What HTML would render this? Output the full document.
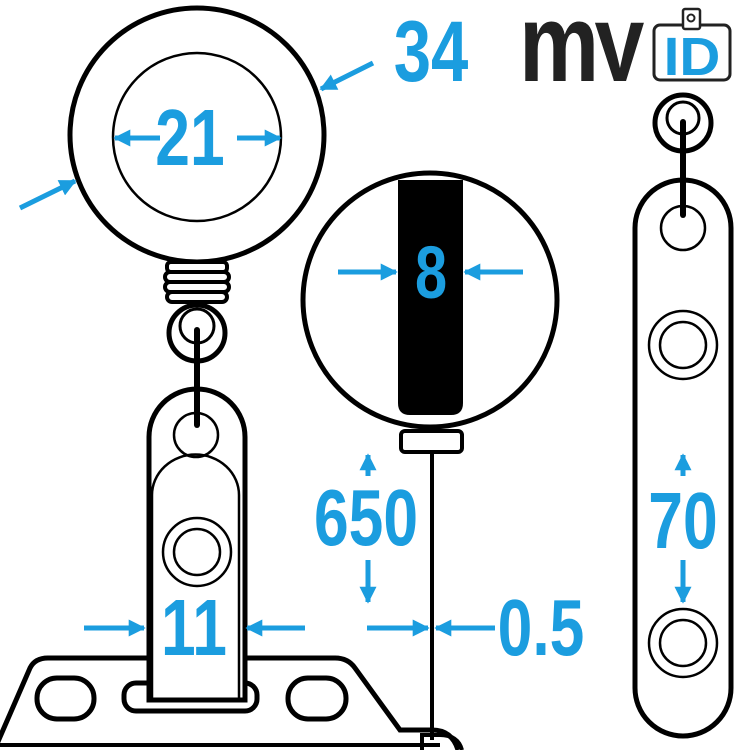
<!DOCTYPE html>
<html><head><meta charset="utf-8"><style>
html,body{margin:0;padding:0;background:#fff;width:750px;height:750px;overflow:hidden}
svg text{font-family:"Liberation Sans",sans-serif;font-weight:bold;fill:#1b9ddf}
</style></head><body>
<svg width="750" height="750" viewBox="0 0 750 750" xmlns="http://www.w3.org/2000/svg">
<defs>
<marker id="ah" viewBox="0 0 10 10" refX="9" refY="5" markerWidth="3.4" markerHeight="3.4" orient="auto" markerUnits="strokeWidth">
<path d="M0,0 L10,5 L0,10 z" fill="#1b9ddf"/></marker>
<clipPath id="lc"><rect x="500" y="0" width="160" height="81"/></clipPath>
</defs>
<g fill="none" stroke="#000">
<!-- base plate -->
<path d="M-10,760 L30,668 Q35,658 48,658 L335,658 Q348,658 355,668 L400,730 L432,730 Q452,730 458,750" stroke-width="5" fill="#fff"/>
<rect x="37" y="678" width="57" height="41" rx="20" stroke-width="5"/>
<rect x="288" y="678" width="58" height="41" rx="20" stroke-width="5"/>
<rect x="124" y="683" width="133" height="28" rx="12" stroke-width="5"/>
<line x1="0" y1="745" x2="440" y2="745" stroke-width="4"/>
<!-- clip -->
<path d="M149,700 L149,437 A48,48 0 0 1 245,437 L245,700 Z" stroke-width="5" fill="#fff"/>
<path d="M152,700 L152,495 A43,40 0 0 1 239,495 L239,700" stroke-width="2.5"/>
<circle cx="196" cy="435" r="22" stroke-width="2.5"/>
<circle cx="197" cy="552" r="34" stroke-width="2.5"/>
<circle cx="197" cy="552" r="23" stroke-width="2.5"/>
<!-- big reel -->
<circle cx="197" cy="135" r="127" stroke-width="5"/>
<circle cx="197" cy="137" r="84" stroke-width="2.5"/>
<!-- coil -->
<rect x="167" y="262" width="60" height="10" rx="4" stroke-width="4" fill="#fff"/>
<rect x="165" y="272" width="64" height="10" rx="5" stroke-width="4" fill="#fff"/>
<rect x="165" y="282" width="64" height="10" rx="5" stroke-width="4" fill="#fff"/>
<rect x="167" y="292" width="60" height="10" rx="5" stroke-width="4" fill="#fff"/>
<circle cx="197" cy="333" r="28" stroke-width="5" fill="#fff"/>
<circle cx="197" cy="326" r="17" stroke-width="3"/>
<line x1="197" y1="330" x2="197" y2="425" stroke-width="6" stroke-linecap="round"/>
<!-- second reel -->
<circle cx="430" cy="300" r="127" stroke-width="5"/>
<path d="M398,180 L463,180 L463,403 Q463,415 451,415 L410,415 Q398,415 398,403 Z" fill="#000" stroke="none"/>
<rect x="401" y="431" width="61" height="21" rx="4" stroke-width="4" fill="#fff"/>
<line x1="432" y1="452" x2="432" y2="740" stroke-width="4"/>
<path d="M422,750 L422,735 L440,735 Q458,735 462,750" stroke-width="4"/>
<!-- right strap -->
<path d="M635,228 A48,48 0 0 1 731,228 L731,688 A48,48 0 0 1 635,688 Z" stroke-width="5"/>
<circle cx="683" cy="228" r="22" stroke-width="2.5"/>
<circle cx="683" cy="123" r="28" stroke-width="5" fill="#fff"/>
<circle cx="683" cy="118" r="16" stroke-width="3"/>
<line x1="683" y1="122" x2="683" y2="215" stroke-width="6" stroke-linecap="round"/>
<circle cx="683" cy="345" r="34" stroke-width="2.5"/>
<circle cx="683" cy="345" r="23" stroke-width="2.5"/>
<circle cx="683" cy="643" r="34" stroke-width="2.5"/>
<circle cx="683" cy="643" r="23" stroke-width="2.5"/>
</g>
<!-- arrows -->
<g stroke="#1b9ddf" stroke-width="5" fill="none" marker-end="url(#ah)">
<line x1="160" y1="138" x2="115" y2="138"/>
<line x1="237" y1="138" x2="280" y2="138"/>
<line x1="373" y1="63" x2="321" y2="89"/>
<line x1="20" y1="208" x2="75" y2="181"/>
<line x1="338" y1="272" x2="396" y2="272"/>
<line x1="523" y1="272" x2="465" y2="272"/>
<line x1="368" y1="476" x2="368" y2="455"/>
<line x1="368" y1="560" x2="368" y2="602"/>
<line x1="367" y1="628" x2="428" y2="628"/>
<line x1="495" y1="628" x2="436" y2="628"/>
<line x1="84" y1="628" x2="144" y2="628"/>
<line x1="305" y1="628" x2="247" y2="628"/>
<line x1="683" y1="476" x2="683" y2="455"/>
<line x1="683" y1="560" x2="683" y2="602"/>
</g>
<!-- labels -->
<text transform="translate(190,165) scale(0.78,1)" font-size="80" text-anchor="middle">21</text>
<text transform="translate(431,81) scale(0.78,1)" font-size="86" text-anchor="middle">34</text>
<text transform="translate(431,298) scale(0.78,1)" font-size="74" text-anchor="middle">8</text>
<text transform="translate(366,545) scale(0.78,1)" font-size="80" text-anchor="middle">650</text>
<text transform="translate(194,655) scale(0.78,1)" font-size="80" text-anchor="middle">11</text>
<text transform="translate(541,655) scale(0.78,1)" font-size="80" text-anchor="middle">0.5</text>
<text transform="translate(683,548) scale(0.78,1)" font-size="80" text-anchor="middle">70</text>
<!-- logo -->
<g clip-path="url(#lc)">
<text transform="translate(519,81) scale(0.82,1)" font-size="110" style="fill:#222;font-weight:900;letter-spacing:-6px">my</text>
</g>
<rect x="654" y="25" width="76" height="55" rx="6" fill="#fff" stroke="#222" stroke-width="3"/>
<rect x="683" y="9" width="17" height="20" rx="2" fill="#fff" stroke="#222" stroke-width="2.5"/>
<circle cx="691" cy="18" r="3.5" fill="none" stroke="#222" stroke-width="2"/>
<text transform="translate(692,75) scale(1.05,1)" font-size="54" text-anchor="middle" style="fill:#1b9ddf;font-weight:900">ID</text>
</svg>
</body></html>
